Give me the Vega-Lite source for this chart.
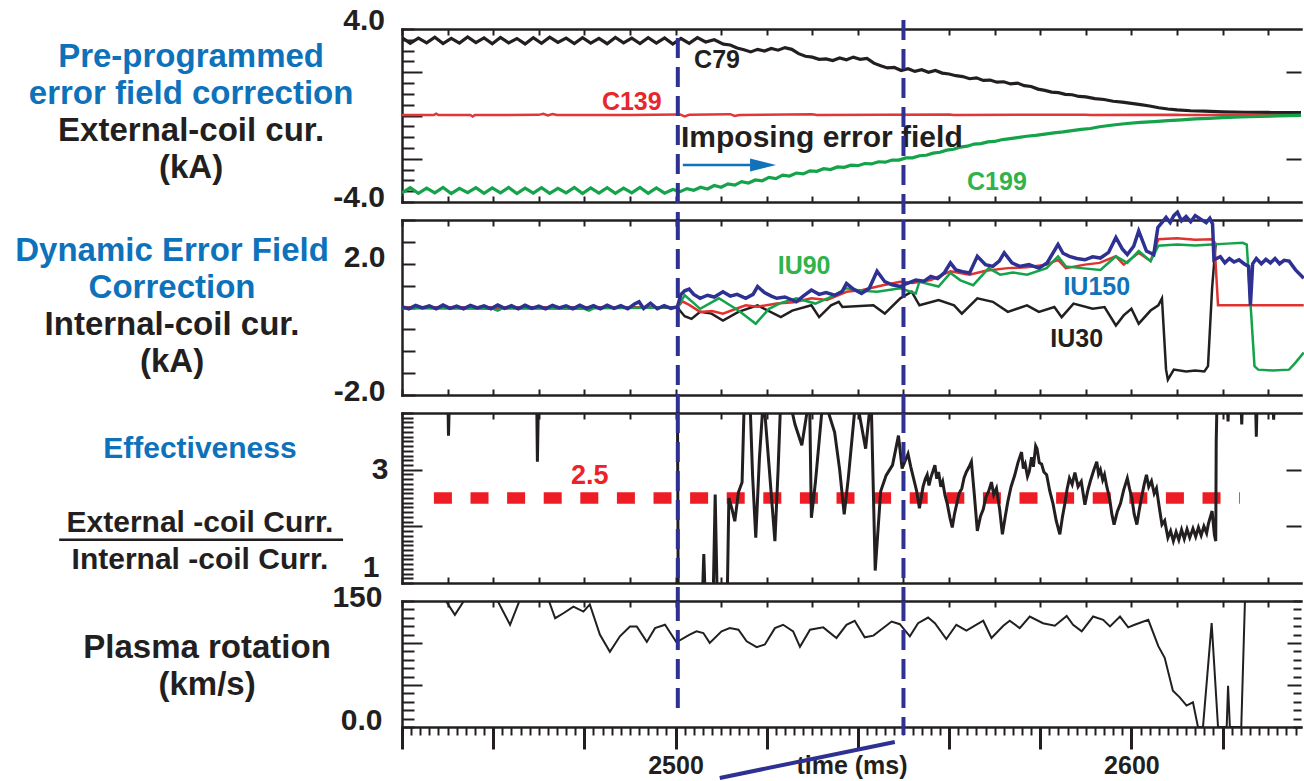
{
  "$schema": "https://vega.github.io/schema/vega-lite/v6.json",
  "background": "white",
  "padding": {"left": 0, "top": 5, "right": 0, "bottom": 0},
  "columns": 2,
  "align": "each",
  "bounds": "flush",
  "spacing": {"row": 18, "column": 62},
  "resolve": {"scale": {"color": "independent"}},
  "config": {
    "font": "Liberation Sans",
    "view": {"stroke": null},
    "text": {"font": "Liberation Sans", "fontWeight": "bold"},
    "axis": {
      "grid": false,
      "domainColor": "#231f20",
      "domainWidth": 2.5,
      "domainCap": "square",
      "tickColor": "#231f20",
      "tickWidth": 2,
      "labelFont": "Liberation Sans",
      "labelFontWeight": "bold",
      "labelColor": "#231f20",
      "labelFontSize": 30,
      "labelOverlap": false,
      "labelFlush": false,
      "titleFont": "Liberation Sans",
      "titleFontWeight": "bold",
      "titleColor": "#231f20"
    }
  },
  "datasets": {
    "ext": [
      {"coil": "C79", "t": 2440, "v": 3.60}, {"coil": "C79", "t": 2441.8, "v": 3.34}, {"coil": "C79", "t": 2443.6, "v": 3.58}, {"coil": "C79", "t": 2445.4, "v": 3.36},
      {"coil": "C79", "t": 2447.2, "v": 3.62}, {"coil": "C79", "t": 2449, "v": 3.33}, {"coil": "C79", "t": 2450.8, "v": 3.57}, {"coil": "C79", "t": 2452.6, "v": 3.35},
      {"coil": "C79", "t": 2454.4, "v": 3.63}, {"coil": "C79", "t": 2456.2, "v": 3.37}, {"coil": "C79", "t": 2458, "v": 3.59}, {"coil": "C79", "t": 2459.8, "v": 3.32},
      {"coil": "C79", "t": 2461.6, "v": 3.61}, {"coil": "C79", "t": 2463.4, "v": 3.36}, {"coil": "C79", "t": 2465.2, "v": 3.56}, {"coil": "C79", "t": 2467, "v": 3.31},
      {"coil": "C79", "t": 2468.8, "v": 3.60}, {"coil": "C79", "t": 2470.6, "v": 3.34}, {"coil": "C79", "t": 2472.4, "v": 3.62}, {"coil": "C79", "t": 2474.2, "v": 3.38},
      {"coil": "C79", "t": 2476, "v": 3.58}, {"coil": "C79", "t": 2477.8, "v": 3.33}, {"coil": "C79", "t": 2479.6, "v": 3.60}, {"coil": "C79", "t": 2481.4, "v": 3.35},
      {"coil": "C79", "t": 2483.2, "v": 3.57}, {"coil": "C79", "t": 2485, "v": 3.32}, {"coil": "C79", "t": 2486.8, "v": 3.61}, {"coil": "C79", "t": 2488.6, "v": 3.36},
      {"coil": "C79", "t": 2490.4, "v": 3.58}, {"coil": "C79", "t": 2492.2, "v": 3.33}, {"coil": "C79", "t": 2494, "v": 3.60}, {"coil": "C79", "t": 2495.8, "v": 3.35},
      {"coil": "C79", "t": 2497.6, "v": 3.59}, {"coil": "C79", "t": 2499.4, "v": 3.30}, {"coil": "C79", "t": 2501.2, "v": 3.56}, {"coil": "C79", "t": 2503, "v": 3.34},
      {"coil": "C79", "t": 2504.8, "v": 3.60}, {"coil": "C79", "t": 2506.6, "v": 3.40}, {"coil": "C79", "t": 2508.5, "v": 3.50}, {"coil": "C79", "t": 2510.5, "v": 3.30},
      {"coil": "C79", "t": 2512, "v": 3.26}, {"coil": "C79", "t": 2513.5, "v": 3.12}, {"coil": "C79", "t": 2515, "v": 3.04}, {"coil": "C79", "t": 2516.5, "v": 2.94},
      {"coil": "C79", "t": 2518, "v": 3.06}, {"coil": "C79", "t": 2519.5, "v": 2.98}, {"coil": "C79", "t": 2521, "v": 3.10}, {"coil": "C79", "t": 2522.5, "v": 3.02},
      {"coil": "C79", "t": 2524, "v": 3.14}, {"coil": "C79", "t": 2525.5, "v": 3.06}, {"coil": "C79", "t": 2527, "v": 2.86}, {"coil": "C79", "t": 2528.5, "v": 2.74},
      {"coil": "C79", "t": 2530, "v": 2.70}, {"coil": "C79", "t": 2531.5, "v": 2.60}, {"coil": "C79", "t": 2533, "v": 2.62}, {"coil": "C79", "t": 2534.5, "v": 2.54},
      {"coil": "C79", "t": 2536, "v": 2.66}, {"coil": "C79", "t": 2537.5, "v": 2.58}, {"coil": "C79", "t": 2539, "v": 2.70}, {"coil": "C79", "t": 2540.5, "v": 2.60},
      {"coil": "C79", "t": 2542, "v": 2.64}, {"coil": "C79", "t": 2543.5, "v": 2.42}, {"coil": "C79", "t": 2545, "v": 2.30}, {"coil": "C79", "t": 2546.5, "v": 2.20},
      {"coil": "C79", "t": 2548, "v": 2.22}, {"coil": "C79", "t": 2549.5, "v": 2.08}, {"coil": "C79", "t": 2551, "v": 2.16}, {"coil": "C79", "t": 2552.5, "v": 2.04},
      {"coil": "C79", "t": 2554, "v": 2.12}, {"coil": "C79", "t": 2555.5, "v": 2.00}, {"coil": "C79", "t": 2557, "v": 2.08}, {"coil": "C79", "t": 2558.5, "v": 1.96},
      {"coil": "C79", "t": 2560, "v": 1.92}, {"coil": "C79", "t": 2561.5, "v": 1.84}, {"coil": "C79", "t": 2563, "v": 1.80}, {"coil": "C79", "t": 2564.5, "v": 1.70},
      {"coil": "C79", "t": 2566, "v": 1.74}, {"coil": "C79", "t": 2567.5, "v": 1.62}, {"coil": "C79", "t": 2569, "v": 1.64}, {"coil": "C79", "t": 2570.5, "v": 1.54},
      {"coil": "C79", "t": 2572, "v": 1.56}, {"coil": "C79", "t": 2573.5, "v": 1.46}, {"coil": "C79", "t": 2575, "v": 1.50}, {"coil": "C79", "t": 2576.5, "v": 1.38},
      {"coil": "C79", "t": 2578, "v": 1.34}, {"coil": "C79", "t": 2579.5, "v": 1.22}, {"coil": "C79", "t": 2581, "v": 1.16}, {"coil": "C79", "t": 2582.5, "v": 1.08},
      {"coil": "C79", "t": 2584, "v": 1.06}, {"coil": "C79", "t": 2585.5, "v": 0.98}, {"coil": "C79", "t": 2587, "v": 0.96}, {"coil": "C79", "t": 2588.5, "v": 0.88},
      {"coil": "C79", "t": 2590, "v": 0.86}, {"coil": "C79", "t": 2592, "v": 0.78}, {"coil": "C79", "t": 2594, "v": 0.74}, {"coil": "C79", "t": 2596, "v": 0.66},
      {"coil": "C79", "t": 2598, "v": 0.62}, {"coil": "C79", "t": 2600, "v": 0.56}, {"coil": "C79", "t": 2602, "v": 0.50}, {"coil": "C79", "t": 2604, "v": 0.44},
      {"coil": "C79", "t": 2606, "v": 0.36}, {"coil": "C79", "t": 2608, "v": 0.30}, {"coil": "C79", "t": 2610, "v": 0.26}, {"coil": "C79", "t": 2613, "v": 0.22},
      {"coil": "C79", "t": 2616, "v": 0.20}, {"coil": "C79", "t": 2620, "v": 0.17}, {"coil": "C79", "t": 2625, "v": 0.15}, {"coil": "C79", "t": 2630, "v": 0.14},
      {"coil": "C79", "t": 2638, "v": 0.13},

      {"coil": "C139", "t": 2440, "v": 0.02}, {"coil": "C139", "t": 2447, "v": 0.02}, {"coil": "C139", "t": 2447.5, "v": 0.08}, {"coil": "C139", "t": 2448, "v": 0.02},
      {"coil": "C139", "t": 2455, "v": 0.02}, {"coil": "C139", "t": 2455.5, "v": -0.05}, {"coil": "C139", "t": 2456, "v": 0.02}, {"coil": "C139", "t": 2470, "v": 0.03},
      {"coil": "C139", "t": 2471, "v": 0.08}, {"coil": "C139", "t": 2472, "v": 0.0}, {"coil": "C139", "t": 2473, "v": 0.07}, {"coil": "C139", "t": 2474, "v": 0.02},
      {"coil": "C139", "t": 2490, "v": 0.02}, {"coil": "C139", "t": 2501, "v": 0.05}, {"coil": "C139", "t": 2502, "v": -0.04}, {"coil": "C139", "t": 2503, "v": 0.03},
      {"coil": "C139", "t": 2512, "v": 0.06}, {"coil": "C139", "t": 2513, "v": -0.02}, {"coil": "C139", "t": 2514, "v": 0.02}, {"coil": "C139", "t": 2530, "v": 0.06},
      {"coil": "C139", "t": 2531, "v": 0.02}, {"coil": "C139", "t": 2560, "v": 0.05}, {"coil": "C139", "t": 2561, "v": 0.02}, {"coil": "C139", "t": 2590, "v": 0.04},
      {"coil": "C139", "t": 2591, "v": 0.02}, {"coil": "C139", "t": 2610, "v": 0.04}, {"coil": "C139", "t": 2611, "v": 0.02}, {"coil": "C139", "t": 2638, "v": 0.02},

      {"coil": "C199", "t": 2440, "v": -3.58}, {"coil": "C199", "t": 2441.8, "v": -3.34}, {"coil": "C199", "t": 2443.6, "v": -3.60}, {"coil": "C199", "t": 2445.4, "v": -3.36},
      {"coil": "C199", "t": 2447.2, "v": -3.58}, {"coil": "C199", "t": 2449, "v": -3.33}, {"coil": "C199", "t": 2450.8, "v": -3.61}, {"coil": "C199", "t": 2452.6, "v": -3.37},
      {"coil": "C199", "t": 2454.4, "v": -3.57}, {"coil": "C199", "t": 2456.2, "v": -3.34}, {"coil": "C199", "t": 2458, "v": -3.60}, {"coil": "C199", "t": 2459.8, "v": -3.35},
      {"coil": "C199", "t": 2461.6, "v": -3.58}, {"coil": "C199", "t": 2463.4, "v": -3.33}, {"coil": "C199", "t": 2465.2, "v": -3.61}, {"coil": "C199", "t": 2467, "v": -3.36},
      {"coil": "C199", "t": 2468.8, "v": -3.59}, {"coil": "C199", "t": 2470.6, "v": -3.34}, {"coil": "C199", "t": 2472.4, "v": -3.60}, {"coil": "C199", "t": 2474.2, "v": -3.37},
      {"coil": "C199", "t": 2476, "v": -3.58}, {"coil": "C199", "t": 2477.8, "v": -3.33}, {"coil": "C199", "t": 2479.6, "v": -3.61}, {"coil": "C199", "t": 2481.4, "v": -3.35},
      {"coil": "C199", "t": 2483.2, "v": -3.59}, {"coil": "C199", "t": 2485, "v": -3.34}, {"coil": "C199", "t": 2486.8, "v": -3.60}, {"coil": "C199", "t": 2488.6, "v": -3.36},
      {"coil": "C199", "t": 2490.4, "v": -3.58}, {"coil": "C199", "t": 2492.2, "v": -3.33}, {"coil": "C199", "t": 2494, "v": -3.60}, {"coil": "C199", "t": 2495.8, "v": -3.35},
      {"coil": "C199", "t": 2497.6, "v": -3.59}, {"coil": "C199", "t": 2499.4, "v": -3.42}, {"coil": "C199", "t": 2501, "v": -3.52}, {"coil": "C199", "t": 2502.5, "v": -3.38},
      {"coil": "C199", "t": 2504, "v": -3.46}, {"coil": "C199", "t": 2505.5, "v": -3.32}, {"coil": "C199", "t": 2507, "v": -3.40}, {"coil": "C199", "t": 2508.5, "v": -3.24},
      {"coil": "C199", "t": 2510, "v": -3.32}, {"coil": "C199", "t": 2511.5, "v": -3.16}, {"coil": "C199", "t": 2513, "v": -3.22}, {"coil": "C199", "t": 2514.5, "v": -3.06},
      {"coil": "C199", "t": 2516, "v": -3.12}, {"coil": "C199", "t": 2517.5, "v": -2.98}, {"coil": "C199", "t": 2519, "v": -3.02}, {"coil": "C199", "t": 2520.5, "v": -2.86},
      {"coil": "C199", "t": 2522, "v": -2.92}, {"coil": "C199", "t": 2523.5, "v": -2.76}, {"coil": "C199", "t": 2525, "v": -2.80}, {"coil": "C199", "t": 2526.5, "v": -2.66},
      {"coil": "C199", "t": 2528, "v": -2.70}, {"coil": "C199", "t": 2529.5, "v": -2.56}, {"coil": "C199", "t": 2531, "v": -2.58}, {"coil": "C199", "t": 2532.5, "v": -2.46},
      {"coil": "C199", "t": 2534, "v": -2.50}, {"coil": "C199", "t": 2535.5, "v": -2.38}, {"coil": "C199", "t": 2537, "v": -2.40}, {"coil": "C199", "t": 2538.5, "v": -2.30},
      {"coil": "C199", "t": 2540, "v": -2.32}, {"coil": "C199", "t": 2541.5, "v": -2.22}, {"coil": "C199", "t": 2543, "v": -2.24}, {"coil": "C199", "t": 2544.5, "v": -2.14},
      {"coil": "C199", "t": 2546, "v": -2.16}, {"coil": "C199", "t": 2547.5, "v": -2.06}, {"coil": "C199", "t": 2549, "v": -2.06}, {"coil": "C199", "t": 2550.5, "v": -1.96},
      {"coil": "C199", "t": 2552, "v": -1.96}, {"coil": "C199", "t": 2553.5, "v": -1.86}, {"coil": "C199", "t": 2555, "v": -1.84}, {"coil": "C199", "t": 2556.5, "v": -1.74},
      {"coil": "C199", "t": 2558, "v": -1.70}, {"coil": "C199", "t": 2559.5, "v": -1.60}, {"coil": "C199", "t": 2561, "v": -1.56}, {"coil": "C199", "t": 2562.5, "v": -1.46},
      {"coil": "C199", "t": 2564, "v": -1.42}, {"coil": "C199", "t": 2565.5, "v": -1.32}, {"coil": "C199", "t": 2567, "v": -1.30}, {"coil": "C199", "t": 2568.5, "v": -1.22},
      {"coil": "C199", "t": 2570, "v": -1.20}, {"coil": "C199", "t": 2571.5, "v": -1.12}, {"coil": "C199", "t": 2573, "v": -1.08}, {"coil": "C199", "t": 2575, "v": -1.02},
      {"coil": "C199", "t": 2577, "v": -0.96}, {"coil": "C199", "t": 2579, "v": -0.92}, {"coil": "C199", "t": 2581, "v": -0.86}, {"coil": "C199", "t": 2583, "v": -0.80},
      {"coil": "C199", "t": 2585, "v": -0.76}, {"coil": "C199", "t": 2587, "v": -0.70}, {"coil": "C199", "t": 2589, "v": -0.64}, {"coil": "C199", "t": 2591, "v": -0.60},
      {"coil": "C199", "t": 2593, "v": -0.52}, {"coil": "C199", "t": 2596, "v": -0.44}, {"coil": "C199", "t": 2599, "v": -0.37}, {"coil": "C199", "t": 2602, "v": -0.32},
      {"coil": "C199", "t": 2605, "v": -0.28}, {"coil": "C199", "t": 2608, "v": -0.24}, {"coil": "C199", "t": 2611, "v": -0.20}, {"coil": "C199", "t": 2614, "v": -0.16},
      {"coil": "C199", "t": 2617, "v": -0.13}, {"coil": "C199", "t": 2620, "v": -0.10}, {"coil": "C199", "t": 2624, "v": -0.07}, {"coil": "C199", "t": 2628, "v": -0.04},
      {"coil": "C199", "t": 2632, "v": -0.02}, {"coil": "C199", "t": 2638, "v": 0.01}
    ],
    "int": [
      {"coil": "IU30", "t": 2440, "v": 0}, {"coil": "IU30", "t": 2500.4, "v": 0}, {"coil": "IU30", "t": 2502, "v": -0.20}, {"coil": "IU30", "t": 2503.5, "v": -0.26},
      {"coil": "IU30", "t": 2505.4, "v": -0.10}, {"coil": "IU30", "t": 2507.9, "v": -0.14}, {"coil": "IU30", "t": 2510.4, "v": -0.30}, {"coil": "IU30", "t": 2513.8, "v": -0.10},
      {"coil": "IU30", "t": 2518, "v": 0.05}, {"coil": "IU30", "t": 2523.1, "v": -0.22}, {"coil": "IU30", "t": 2525.6, "v": -0.07}, {"coil": "IU30", "t": 2529.8, "v": 0.05},
      {"coil": "IU30", "t": 2531.5, "v": -0.22}, {"coil": "IU30", "t": 2534.1, "v": 0.05}, {"coil": "IU30", "t": 2535.8, "v": 0.13}, {"coil": "IU30", "t": 2536.6, "v": 0.01},
      {"coil": "IU30", "t": 2543.4, "v": 0.05}, {"coil": "IU30", "t": 2545.9, "v": -0.14}, {"coil": "IU30", "t": 2549.3, "v": 0.21}, {"coil": "IU30", "t": 2551.8, "v": 0.36},
      {"coil": "IU30", "t": 2553.5, "v": 0.05}, {"coil": "IU30", "t": 2557.7, "v": 0.17}, {"coil": "IU30", "t": 2561.1, "v": 0.05}, {"coil": "IU30", "t": 2562.8, "v": -0.14},
      {"coil": "IU30", "t": 2566.2, "v": 0.21}, {"coil": "IU30", "t": 2569.6, "v": 0.13}, {"coil": "IU30", "t": 2572.9, "v": -0.10}, {"coil": "IU30", "t": 2577.1, "v": 0.05},
      {"coil": "IU30", "t": 2579.7, "v": -0.10}, {"coil": "IU30", "t": 2583.1, "v": 0.01}, {"coil": "IU30", "t": 2584.7, "v": -0.22}, {"coil": "IU30", "t": 2587.3, "v": 0.09},
      {"coil": "IU30", "t": 2591.5, "v": -0.03}, {"coil": "IU30", "t": 2594.1, "v": 0.01}, {"coil": "IU30", "t": 2596.6, "v": -0.41}, {"coil": "IU30", "t": 2598.3, "v": -0.18},
      {"coil": "IU30", "t": 2600, "v": -0.03}, {"coil": "IU30", "t": 2601.6, "v": -0.37}, {"coil": "IU30", "t": 2604.2, "v": -0.07}, {"coil": "IU30", "t": 2605.9, "v": 0.05},
      {"coil": "IU30", "t": 2606.7, "v": 0.21}, {"coil": "IU30", "t": 2607.6, "v": -1.42}, {"coil": "IU30", "t": 2608, "v": -1.65}, {"coil": "IU30", "t": 2609.3, "v": -1.42},
      {"coil": "IU30", "t": 2612, "v": -1.46}, {"coil": "IU30", "t": 2614, "v": -1.44}, {"coil": "IU30", "t": 2616, "v": -1.46}, {"coil": "IU30", "t": 2616.8, "v": -1.34},
      {"coil": "IU30", "t": 2617.7, "v": 0.44}, {"coil": "IU30", "t": 2618.5, "v": 1.48},

      {"coil": "IU210", "t": 2440, "v": 0}, {"coil": "IU210", "t": 2500.4, "v": 0}, {"coil": "IU210", "t": 2501.5, "v": 0.14}, {"coil": "IU210", "t": 2503, "v": 0.06},
      {"coil": "IU210", "t": 2505.4, "v": -0.10}, {"coil": "IU210", "t": 2508, "v": -0.08}, {"coil": "IU210", "t": 2510.4, "v": -0.14}, {"coil": "IU210", "t": 2513, "v": -0.04},
      {"coil": "IU210", "t": 2515.4, "v": 0.05}, {"coil": "IU210", "t": 2518, "v": 0.02}, {"coil": "IU210", "t": 2522.2, "v": 0.09}, {"coil": "IU210", "t": 2526, "v": 0.12},
      {"coil": "IU210", "t": 2529.8, "v": 0.21}, {"coil": "IU210", "t": 2533.2, "v": 0.17}, {"coil": "IU210", "t": 2537.5, "v": 0.36}, {"coil": "IU210", "t": 2541, "v": 0.40},
      {"coil": "IU210", "t": 2545.5, "v": 0.51}, {"coil": "IU210", "t": 2549.3, "v": 0.59}, {"coil": "IU210", "t": 2552, "v": 0.56}, {"coil": "IU210", "t": 2556, "v": 0.63},
      {"coil": "IU210", "t": 2560.3, "v": 0.83}, {"coil": "IU210", "t": 2564.5, "v": 0.75}, {"coil": "IU210", "t": 2568, "v": 0.84}, {"coil": "IU210", "t": 2572.9, "v": 0.90},
      {"coil": "IU210", "t": 2577, "v": 0.92}, {"coil": "IU210", "t": 2581.4, "v": 0.98}, {"coil": "IU210", "t": 2583.9, "v": 1.09}, {"coil": "IU210", "t": 2585.6, "v": 0.90},
      {"coil": "IU210", "t": 2589.8, "v": 0.98}, {"coil": "IU210", "t": 2593, "v": 1.02}, {"coil": "IU210", "t": 2596.6, "v": 1.17}, {"coil": "IU210", "t": 2598.3, "v": 0.98},
      {"coil": "IU210", "t": 2601.6, "v": 1.25}, {"coil": "IU210", "t": 2604.2, "v": 1.06}, {"coil": "IU210", "t": 2605.9, "v": 1.56}, {"coil": "IU210", "t": 2610, "v": 1.58},
      {"coil": "IU210", "t": 2614, "v": 1.55}, {"coil": "IU210", "t": 2617.7, "v": 1.56}, {"coil": "IU210", "t": 2618.2, "v": 1.50}, {"coil": "IU210", "t": 2619, "v": 0.05},
      {"coil": "IU210", "t": 2637.8, "v": 0.05},

      {"coil": "IU90", "t": 2440, "v": -0.02}, {"coil": "IU90", "t": 2460, "v": -0.03}, {"coil": "IU90", "t": 2461, "v": -0.07}, {"coil": "IU90", "t": 2462, "v": -0.02},
      {"coil": "IU90", "t": 2480, "v": -0.03}, {"coil": "IU90", "t": 2481, "v": -0.07}, {"coil": "IU90", "t": 2482, "v": -0.02}, {"coil": "IU90", "t": 2500.4, "v": 0},
      {"coil": "IU90", "t": 2502, "v": 0.28}, {"coil": "IU90", "t": 2504, "v": 0.10}, {"coil": "IU90", "t": 2505.4, "v": -0.03}, {"coil": "IU90", "t": 2509.5, "v": 0.21},
      {"coil": "IU90", "t": 2513.8, "v": -0.07}, {"coil": "IU90", "t": 2517.6, "v": -0.37}, {"coil": "IU90", "t": 2520.5, "v": -0.03}, {"coil": "IU90", "t": 2523, "v": 0.10},
      {"coil": "IU90", "t": 2526.5, "v": 0.21}, {"coil": "IU90", "t": 2530.7, "v": 0.09}, {"coil": "IU90", "t": 2534.1, "v": 0.24}, {"coil": "IU90", "t": 2537.5, "v": 0.44},
      {"coil": "IU90", "t": 2541, "v": 0.38}, {"coil": "IU90", "t": 2544.2, "v": 0.36}, {"coil": "IU90", "t": 2549.3, "v": 0.44}, {"coil": "IU90", "t": 2552.7, "v": 0.32},
      {"coil": "IU90", "t": 2553.5, "v": 0.59}, {"coil": "IU90", "t": 2557.7, "v": 0.48}, {"coil": "IU90", "t": 2560.3, "v": 0.79}, {"coil": "IU90", "t": 2562.5, "v": 0.62},
      {"coil": "IU90", "t": 2565.3, "v": 0.51}, {"coil": "IU90", "t": 2568.7, "v": 0.90}, {"coil": "IU90", "t": 2571.2, "v": 0.75}, {"coil": "IU90", "t": 2574, "v": 0.80},
      {"coil": "IU90", "t": 2577.1, "v": 0.75}, {"coil": "IU90", "t": 2581.4, "v": 0.90}, {"coil": "IU90", "t": 2583.9, "v": 1.17}, {"coil": "IU90", "t": 2585.6, "v": 0.94},
      {"coil": "IU90", "t": 2589, "v": 0.90}, {"coil": "IU90", "t": 2593.2, "v": 0.86}, {"coil": "IU90", "t": 2596.6, "v": 1.17}, {"coil": "IU90", "t": 2599.1, "v": 1.02},
      {"coil": "IU90", "t": 2601.6, "v": 1.29}, {"coil": "IU90", "t": 2604.2, "v": 1.06}, {"coil": "IU90", "t": 2605.9, "v": 1.41}, {"coil": "IU90", "t": 2610, "v": 1.44},
      {"coil": "IU90", "t": 2614, "v": 1.42}, {"coil": "IU90", "t": 2617.7, "v": 1.44}, {"coil": "IU90", "t": 2621, "v": 1.46}, {"coil": "IU90", "t": 2624.4, "v": 1.48},
      {"coil": "IU90", "t": 2625.3, "v": 1.44}, {"coil": "IU90", "t": 2627, "v": -1.34}, {"coil": "IU90", "t": 2627.8, "v": -1.42}, {"coil": "IU90", "t": 2631, "v": -1.44},
      {"coil": "IU90", "t": 2634.6, "v": -1.42}, {"coil": "IU90", "t": 2636, "v": -1.26}, {"coil": "IU90", "t": 2637.8, "v": -1.03},

      {"coil": "IU150", "t": 2440, "v": 0.02}, {"coil": "IU150", "t": 2441.5, "v": -0.03}, {"coil": "IU150", "t": 2443, "v": 0.05}, {"coil": "IU150", "t": 2444.5, "v": -0.01},
      {"coil": "IU150", "t": 2446, "v": 0.04}, {"coil": "IU150", "t": 2447.5, "v": -0.03}, {"coil": "IU150", "t": 2449, "v": 0.06}, {"coil": "IU150", "t": 2450.5, "v": -0.02},
      {"coil": "IU150", "t": 2452, "v": 0.03}, {"coil": "IU150", "t": 2453.5, "v": -0.03}, {"coil": "IU150", "t": 2455, "v": 0.05}, {"coil": "IU150", "t": 2456.5, "v": -0.01},
      {"coil": "IU150", "t": 2458, "v": 0.04}, {"coil": "IU150", "t": 2459.5, "v": -0.03}, {"coil": "IU150", "t": 2461, "v": 0.06}, {"coil": "IU150", "t": 2462.5, "v": -0.02},
      {"coil": "IU150", "t": 2464, "v": 0.04}, {"coil": "IU150", "t": 2465.5, "v": -0.03}, {"coil": "IU150", "t": 2467, "v": 0.05}, {"coil": "IU150", "t": 2468.5, "v": -0.02},
      {"coil": "IU150", "t": 2470, "v": 0.03}, {"coil": "IU150", "t": 2471.5, "v": -0.03}, {"coil": "IU150", "t": 2473, "v": 0.05}, {"coil": "IU150", "t": 2474.5, "v": -0.01},
      {"coil": "IU150", "t": 2476, "v": 0.04}, {"coil": "IU150", "t": 2477.5, "v": -0.03}, {"coil": "IU150", "t": 2479, "v": 0.05}, {"coil": "IU150", "t": 2480.5, "v": -0.02},
      {"coil": "IU150", "t": 2482, "v": 0.04}, {"coil": "IU150", "t": 2483.5, "v": -0.03}, {"coil": "IU150", "t": 2485, "v": 0.05}, {"coil": "IU150", "t": 2486.5, "v": -0.02},
      {"coil": "IU150", "t": 2488, "v": 0.04}, {"coil": "IU150", "t": 2489.5, "v": -0.03}, {"coil": "IU150", "t": 2491, "v": 0.08}, {"coil": "IU150", "t": 2492, "v": 0.13},
      {"coil": "IU150", "t": 2493, "v": -0.02}, {"coil": "IU150", "t": 2494.5, "v": 0.10}, {"coil": "IU150", "t": 2496, "v": -0.03}, {"coil": "IU150", "t": 2497.5, "v": 0.04},
      {"coil": "IU150", "t": 2499, "v": -0.02}, {"coil": "IU150", "t": 2500.4, "v": 0.02}, {"coil": "IU150", "t": 2501.2, "v": 0.30}, {"coil": "IU150", "t": 2502, "v": 0.38},
      {"coil": "IU150", "t": 2503, "v": 0.42}, {"coil": "IU150", "t": 2504, "v": 0.30}, {"coil": "IU150", "t": 2505.4, "v": 0.21}, {"coil": "IU150", "t": 2507, "v": 0.28},
      {"coil": "IU150", "t": 2508.5, "v": 0.24}, {"coil": "IU150", "t": 2510.4, "v": 0.36}, {"coil": "IU150", "t": 2512, "v": 0.26}, {"coil": "IU150", "t": 2513.5, "v": 0.30},
      {"coil": "IU150", "t": 2515.4, "v": 0.21}, {"coil": "IU150", "t": 2517, "v": 0.30}, {"coil": "IU150", "t": 2518, "v": 0.48}, {"coil": "IU150", "t": 2519.5, "v": 0.34},
      {"coil": "IU150", "t": 2521, "v": 0.26}, {"coil": "IU150", "t": 2522.2, "v": 0.21}, {"coil": "IU150", "t": 2524, "v": 0.24}, {"coil": "IU150", "t": 2526.5, "v": 0.13},
      {"coil": "IU150", "t": 2528, "v": 0.26}, {"coil": "IU150", "t": 2529.8, "v": 0.40}, {"coil": "IU150", "t": 2531.5, "v": 0.30}, {"coil": "IU150", "t": 2533, "v": 0.34},
      {"coil": "IU150", "t": 2534.9, "v": 0.28}, {"coil": "IU150", "t": 2536.5, "v": 0.36}, {"coil": "IU150", "t": 2537.5, "v": 0.55}, {"coil": "IU150", "t": 2539, "v": 0.42},
      {"coil": "IU150", "t": 2540.8, "v": 0.32}, {"coil": "IU150", "t": 2542.5, "v": 0.44}, {"coil": "IU150", "t": 2544.2, "v": 0.83}, {"coil": "IU150", "t": 2545.9, "v": 0.59},
      {"coil": "IU150", "t": 2547.5, "v": 0.52}, {"coil": "IU150", "t": 2549.3, "v": 0.48}, {"coil": "IU150", "t": 2551, "v": 0.56}, {"coil": "IU150", "t": 2552.7, "v": 0.63},
      {"coil": "IU150", "t": 2554.5, "v": 0.60}, {"coil": "IU150", "t": 2556, "v": 0.71}, {"coil": "IU150", "t": 2557.5, "v": 0.66}, {"coil": "IU150", "t": 2559, "v": 0.80},
      {"coil": "IU150", "t": 2560.3, "v": 1.02}, {"coil": "IU150", "t": 2561.5, "v": 0.86}, {"coil": "IU150", "t": 2563, "v": 0.82}, {"coil": "IU150", "t": 2564.5, "v": 0.79},
      {"coil": "IU150", "t": 2566.2, "v": 1.17}, {"coil": "IU150", "t": 2568, "v": 0.98}, {"coil": "IU150", "t": 2569.6, "v": 0.94}, {"coil": "IU150", "t": 2571, "v": 1.06},
      {"coil": "IU150", "t": 2572.1, "v": 1.25}, {"coil": "IU150", "t": 2573.8, "v": 1.02}, {"coil": "IU150", "t": 2575.5, "v": 0.94}, {"coil": "IU150", "t": 2577.5, "v": 0.98},
      {"coil": "IU150", "t": 2579.7, "v": 0.90}, {"coil": "IU150", "t": 2581.5, "v": 1.02}, {"coil": "IU150", "t": 2583.9, "v": 1.44}, {"coil": "IU150", "t": 2585, "v": 1.24},
      {"coil": "IU150", "t": 2586.4, "v": 1.17}, {"coil": "IU150", "t": 2588, "v": 1.12}, {"coil": "IU150", "t": 2589.8, "v": 1.09}, {"coil": "IU150", "t": 2591.5, "v": 1.16},
      {"coil": "IU150", "t": 2593.2, "v": 1.13}, {"coil": "IU150", "t": 2595, "v": 1.26}, {"coil": "IU150", "t": 2596.6, "v": 1.60}, {"coil": "IU150", "t": 2598, "v": 1.34},
      {"coil": "IU150", "t": 2599.1, "v": 1.21}, {"coil": "IU150", "t": 2600.5, "v": 1.40}, {"coil": "IU150", "t": 2601.6, "v": 1.75}, {"coil": "IU150", "t": 2603.3, "v": 1.29},
      {"coil": "IU150", "t": 2604.9, "v": 1.21}, {"coil": "IU150", "t": 2605.8, "v": 1.83}, {"coil": "IU150", "t": 2607, "v": 1.98}, {"coil": "IU150", "t": 2607.6, "v": 2.06},
      {"coil": "IU150", "t": 2608.5, "v": 1.94}, {"coil": "IU150", "t": 2609.3, "v": 2.10}, {"coil": "IU150", "t": 2610.1, "v": 2.18}, {"coil": "IU150", "t": 2611, "v": 1.98},
      {"coil": "IU150", "t": 2612, "v": 2.08}, {"coil": "IU150", "t": 2613, "v": 1.96}, {"coil": "IU150", "t": 2614, "v": 2.10}, {"coil": "IU150", "t": 2615.2, "v": 2.02},
      {"coil": "IU150", "t": 2616.4, "v": 1.94}, {"coil": "IU150", "t": 2617.2, "v": 2.04}, {"coil": "IU150", "t": 2617.8, "v": 1.91}, {"coil": "IU150", "t": 2618.1, "v": 1.09},
      {"coil": "IU150", "t": 2619.5, "v": 1.16}, {"coil": "IU150", "t": 2620.5, "v": 1.02}, {"coil": "IU150", "t": 2621.5, "v": 1.12}, {"coil": "IU150", "t": 2622.5, "v": 1.04},
      {"coil": "IU150", "t": 2623.6, "v": 1.09}, {"coil": "IU150", "t": 2624.7, "v": 1.00}, {"coil": "IU150", "t": 2625.7, "v": 0.94}, {"coil": "IU150", "t": 2626.1, "v": 0.05},
      {"coil": "IU150", "t": 2626.6, "v": 1.00}, {"coil": "IU150", "t": 2627.4, "v": 1.12}, {"coil": "IU150", "t": 2628.5, "v": 1.00}, {"coil": "IU150", "t": 2629.5, "v": 1.10},
      {"coil": "IU150", "t": 2630.5, "v": 1.02}, {"coil": "IU150", "t": 2631.5, "v": 1.12}, {"coil": "IU150", "t": 2632.5, "v": 1.00}, {"coil": "IU150", "t": 2633.5, "v": 1.08},
      {"coil": "IU150", "t": 2634.6, "v": 1.06}, {"coil": "IU150", "t": 2636, "v": 0.86}, {"coil": "IU150", "t": 2637.8, "v": 0.67}
    ],
    "eff": [
      {"t": 2440, "v": 4.6}, {"t": 2450.0, "v": 4.6}, {"t": 2450.2, "v": 3.60}, {"t": 2450.5, "v": 4.6}, {"t": 2469.5, "v": 4.6}, {"t": 2469.7, "v": 3.14},
      {"t": 2470.0, "v": 4.6}, {"t": 2500.4, "v": 4.6}, {"t": 2500.6, "v": 0.5}, {"t": 2505.8, "v": 0.5}, {"t": 2506.2, "v": 1.51}, {"t": 2506.6, "v": 0.5},
      {"t": 2508.2, "v": 0.5}, {"t": 2508.7, "v": 2.56}, {"t": 2509.2, "v": 0.5}, {"t": 2511.3, "v": 0.5}, {"t": 2511.7, "v": 2.50}, {"t": 2512.4, "v": 2.30},
      {"t": 2513.0, "v": 2.09}, {"t": 2513.8, "v": 2.60}, {"t": 2514.6, "v": 2.78}, {"t": 2515.1, "v": 4.3}, {"t": 2516.3, "v": 4.3}, {"t": 2516.9, "v": 2.90},
      {"t": 2517.6, "v": 1.80}, {"t": 2518.4, "v": 3.20}, {"t": 2519.3, "v": 4.3}, {"t": 2520.5, "v": 3.08}, {"t": 2521.8, "v": 1.74}, {"t": 2522.5, "v": 3.00},
      {"t": 2523.1, "v": 4.3}, {"t": 2524.8, "v": 4.3}, {"t": 2526.2, "v": 3.80}, {"t": 2527.7, "v": 3.43}, {"t": 2529.4, "v": 4.3}, {"t": 2529.8, "v": 2.15},
      {"t": 2530.7, "v": 2.79}, {"t": 2532.4, "v": 4.3}, {"t": 2534.9, "v": 3.66}, {"t": 2536.0, "v": 3.00}, {"t": 2537.0, "v": 2.21}, {"t": 2537.9, "v": 2.85},
      {"t": 2539.6, "v": 4.3}, {"t": 2541.7, "v": 3.37}, {"t": 2542.9, "v": 4.3}, {"t": 2543.8, "v": 1.22}, {"t": 2545.0, "v": 2.62}, {"t": 2546.2, "v": 2.90},
      {"t": 2547.6, "v": 3.08}, {"t": 2548.9, "v": 3.60}, {"t": 2549.7, "v": 3.02}, {"t": 2551.0, "v": 3.28}, {"t": 2551.6, "v": 3.05}, {"t": 2552.2, "v": 2.85},
      {"t": 2552.9, "v": 2.62}, {"t": 2553.5, "v": 2.32}, {"t": 2554.3, "v": 2.70}, {"t": 2554.8, "v": 2.84}, {"t": 2555.2, "v": 2.91}, {"t": 2555.6, "v": 2.72},
      {"t": 2556.0, "v": 2.86}, {"t": 2556.5, "v": 2.98}, {"t": 2556.9, "v": 3.08}, {"t": 2557.3, "v": 2.84}, {"t": 2557.7, "v": 2.96}, {"t": 2558.2, "v": 2.70},
      {"t": 2558.6, "v": 2.79}, {"t": 2559.1, "v": 2.55}, {"t": 2559.6, "v": 2.40}, {"t": 2560.2, "v": 2.15}, {"t": 2560.7, "v": 1.98}, {"t": 2561.2, "v": 2.22},
      {"t": 2561.7, "v": 2.40}, {"t": 2562.2, "v": 2.58}, {"t": 2562.8, "v": 2.67}, {"t": 2563.3, "v": 2.86}, {"t": 2563.8, "v": 2.96}, {"t": 2564.4, "v": 3.05},
      {"t": 2564.9, "v": 3.14}, {"t": 2565.5, "v": 2.60}, {"t": 2566.2, "v": 1.92}, {"t": 2566.9, "v": 2.18}, {"t": 2567.5, "v": 2.30}, {"t": 2568.1, "v": 2.52},
      {"t": 2568.7, "v": 2.62}, {"t": 2569.3, "v": 2.78}, {"t": 2569.8, "v": 2.56}, {"t": 2570.4, "v": 2.67}, {"t": 2571.1, "v": 2.30}, {"t": 2571.7, "v": 1.86},
      {"t": 2572.3, "v": 2.16}, {"t": 2572.9, "v": 2.44}, {"t": 2573.6, "v": 2.70}, {"t": 2574.4, "v": 2.90}, {"t": 2575.1, "v": 3.12}, {"t": 2575.9, "v": 3.31},
      {"t": 2576.3, "v": 3.02}, {"t": 2576.7, "v": 3.10}, {"t": 2577.2, "v": 2.88}, {"t": 2577.6, "v": 2.97}, {"t": 2578.1, "v": 3.22}, {"t": 2578.5, "v": 3.05},
      {"t": 2579.0, "v": 3.42}, {"t": 2579.3, "v": 3.37}, {"t": 2579.8, "v": 3.12}, {"t": 2580.3, "v": 3.10}, {"t": 2580.8, "v": 2.96}, {"t": 2581.4, "v": 2.91},
      {"t": 2582.1, "v": 2.62}, {"t": 2582.8, "v": 2.40}, {"t": 2583.5, "v": 2.10}, {"t": 2584.3, "v": 1.86}, {"t": 2584.9, "v": 2.18}, {"t": 2585.4, "v": 2.40},
      {"t": 2585.9, "v": 2.66}, {"t": 2586.4, "v": 2.85}, {"t": 2587.0, "v": 2.74}, {"t": 2587.6, "v": 2.95}, {"t": 2588.3, "v": 2.70}, {"t": 2589.0, "v": 2.79},
      {"t": 2589.8, "v": 2.38}, {"t": 2590.4, "v": 2.62}, {"t": 2591.0, "v": 2.80}, {"t": 2591.7, "v": 2.98}, {"t": 2592.4, "v": 3.14}, {"t": 2592.8, "v": 2.92},
      {"t": 2593.2, "v": 3.00}, {"t": 2593.7, "v": 2.82}, {"t": 2594.1, "v": 2.91}, {"t": 2594.6, "v": 2.70}, {"t": 2595.2, "v": 2.50}, {"t": 2595.7, "v": 2.22},
      {"t": 2596.2, "v": 2.03}, {"t": 2596.9, "v": 2.26}, {"t": 2597.6, "v": 2.40}, {"t": 2598.3, "v": 2.64}, {"t": 2599.1, "v": 2.85}, {"t": 2599.6, "v": 2.66},
      {"t": 2600.1, "v": 2.50}, {"t": 2600.6, "v": 2.22}, {"t": 2601.2, "v": 2.03}, {"t": 2601.7, "v": 2.28}, {"t": 2602.2, "v": 2.50}, {"t": 2602.8, "v": 2.74},
      {"t": 2603.3, "v": 2.91}, {"t": 2603.8, "v": 2.70}, {"t": 2604.4, "v": 2.80}, {"t": 2605.0, "v": 2.58}, {"t": 2605.5, "v": 2.67}, {"t": 2606.1, "v": 2.34},
      {"t": 2606.7, "v": 2.03}, {"t": 2607.3, "v": 2.10}, {"t": 2608.0, "v": 1.80}, {"t": 2608.6, "v": 1.92}, {"t": 2609.2, "v": 1.74}, {"t": 2609.8, "v": 1.90},
      {"t": 2610.4, "v": 1.76}, {"t": 2611.0, "v": 1.94}, {"t": 2611.6, "v": 1.78}, {"t": 2612.2, "v": 1.95}, {"t": 2612.8, "v": 1.80}, {"t": 2613.5, "v": 1.96},
      {"t": 2614.1, "v": 1.82}, {"t": 2614.7, "v": 1.98}, {"t": 2615.3, "v": 1.84}, {"t": 2615.9, "v": 2.00}, {"t": 2616.5, "v": 1.88}, {"t": 2616.9, "v": 2.05},
      {"t": 2617.7, "v": 2.27}, {"t": 2618.2, "v": 1.85}, {"t": 2618.5, "v": 1.74}, {"t": 2618.6, "v": 3.49}, {"t": 2618.8, "v": 4.3}, {"t": 2621.0, "v": 4.3},
      {"t": 2621.2, "v": 3.85}, {"t": 2621.4, "v": 4.3}, {"t": 2624.0, "v": 4.3}, {"t": 2624.2, "v": 3.80}, {"t": 2624.4, "v": 4.3}, {"t": 2627.2, "v": 4.3},
      {"t": 2627.4, "v": 3.58}, {"t": 2627.6, "v": 4.3}, {"t": 2631.0, "v": 4.3}, {"t": 2631.2, "v": 3.88}, {"t": 2631.4, "v": 4.3}, {"t": 2638, "v": 4.3}
    ],
    "rot": [
      {"t": 2440, "v": 152}, {"t": 2449.4, "v": 152}, {"t": 2451.6, "v": 133.5}, {"t": 2453.8, "v": 152}, {"t": 2460.8, "v": 152}, {"t": 2463.7, "v": 121.7},
      {"t": 2465.9, "v": 152}, {"t": 2472.1, "v": 152}, {"t": 2473.6, "v": 129.5}, {"t": 2475.4, "v": 135.4}, {"t": 2477.6, "v": 143.3}, {"t": 2479.8, "v": 137.4},
      {"t": 2481.2, "v": 146.0}, {"t": 2483.4, "v": 110.0}, {"t": 2485.6, "v": 89.5}, {"t": 2487.8, "v": 108.0}, {"t": 2490.0, "v": 119.7}, {"t": 2491.5, "v": 119.7},
      {"t": 2493.7, "v": 101.3}, {"t": 2495.5, "v": 117.7}, {"t": 2497.7, "v": 121.7}, {"t": 2500.2, "v": 100.9}, {"t": 2503.1, "v": 110.0}, {"t": 2504.6, "v": 113.9},
      {"t": 2506.1, "v": 111.9}, {"t": 2507.5, "v": 100.1}, {"t": 2510.1, "v": 113.9}, {"t": 2511.9, "v": 117.7}, {"t": 2513.8, "v": 115.9}, {"t": 2515.6, "v": 102.1},
      {"t": 2517.8, "v": 95.0}, {"t": 2519.6, "v": 98.2}, {"t": 2521.8, "v": 117.7}, {"t": 2523.6, "v": 121.7}, {"t": 2525.8, "v": 113.9}, {"t": 2527.3, "v": 95.4},
      {"t": 2529.5, "v": 115.9}, {"t": 2532.4, "v": 118.6}, {"t": 2535.3, "v": 106.0}, {"t": 2537.5, "v": 121.7}, {"t": 2539.3, "v": 126.5}, {"t": 2541.5, "v": 106.8},
      {"t": 2543.4, "v": 108.8}, {"t": 2547.4, "v": 125.6}, {"t": 2549.2, "v": 122.4}, {"t": 2551.4, "v": 108.0}, {"t": 2553.2, "v": 123.6}, {"t": 2555.4, "v": 130.3},
      {"t": 2556.9, "v": 123.6}, {"t": 2559.4, "v": 104.8}, {"t": 2561.6, "v": 121.7}, {"t": 2563.8, "v": 114.7}, {"t": 2567.5, "v": 126.5}, {"t": 2569.3, "v": 106.0},
      {"t": 2571.9, "v": 120.6}, {"t": 2573.3, "v": 126.5}, {"t": 2575.5, "v": 117.7}, {"t": 2577.7, "v": 131.5}, {"t": 2580.6, "v": 123.6}, {"t": 2583.2, "v": 120.6},
      {"t": 2585.8, "v": 132.3}, {"t": 2587.2, "v": 121.7}, {"t": 2589.1, "v": 113.9}, {"t": 2591.6, "v": 131.5}, {"t": 2593.8, "v": 127.6}, {"t": 2595.3, "v": 119.7},
      {"t": 2597.5, "v": 131.5}, {"t": 2599.3, "v": 118.6}, {"t": 2600.7, "v": 121.7}, {"t": 2603.7, "v": 127.6}, {"t": 2605.9, "v": 96.2}, {"t": 2607.3, "v": 82.4},
      {"t": 2609.1, "v": 43.2}, {"t": 2610.6, "v": 35.3}, {"t": 2612.1, "v": 25.5}, {"t": 2613.5, "v": 29.4}, {"t": 2614.6, "v": 0}, {"t": 2615.7, "v": 0},
      {"t": 2617.6, "v": 123.6}, {"t": 2619.0, "v": 0}, {"t": 2620.9, "v": 0}, {"t": 2621.2, "v": 49.1}, {"t": 2621.6, "v": 0}, {"t": 2624.1, "v": 0},
      {"t": 2624.9, "v": 149.2}, {"t": 2625.3, "v": 175}
    ]
  },
  "concat": [
    {
      "width": 340, "height": 173,
      "data": {"values": [
        {"line": 1, "text": "Pre-programmed", "role": "heading"},
        {"line": 2, "text": "error field correction", "role": "heading"},
        {"line": 3, "text": "External-coil cur.", "role": "quantity"},
        {"line": 4, "text": "(kA)", "role": "quantity"}
      ]},
      "mark": {"type": "text", "fontSize": 33, "fontWeight": "bold", "baseline": "middle", "align": "center"},
      "encoding": {
        "x": {"datum": 0.562, "type": "quantitative", "scale": {"domain": [0, 1]}, "axis": null},
        "y": {"field": "line", "type": "quantitative", "scale": {"domain": [0.243, 4.919], "reverse": true, "nice": false, "zero": false}, "axis": null},
        "text": {"field": "text"},
        "color": {"field": "role", "type": "nominal", "scale": {"domain": ["heading", "quantity"], "range": ["#0e72bb", "#231f20"]}, "legend": null}
      }
    },
    {
      "width": 899, "height": 173,
      "layer": [
        {
          "data": {"name": "ext"},
          "transform": [{"filter": "datum.coil == 'C79'"}],
          "mark": {"type": "line", "color": "#231f20", "strokeWidth": 3.2, "clip": true},
          "encoding": {
            "x": {"field": "t", "type": "quantitative", "scale": {"domain": [2440, 2637.2], "nice": false, "zero": false},
                  "axis": {"orient": "bottom", "values": [2440,2450,2460,2470,2480,2490,2500,2510,2520,2530,2540,2550,2560,2570,2580,2590,2600,2610,2620,2630], "tickSize": -6, "labels": false, "title": null}},
            "y": {"field": "v", "type": "quantitative", "scale": {"domain": [-4, 4], "nice": false, "zero": false},
                  "axis": {"orient": "left", "values": [-4,-3.5,-3,-2.5,-2,-1.5,-1,-0.5,0,0.5,1,1.5,2,2.5,3,3.5,4],
                           "tickSize": {"condition": {"test": "datum.value == 2 || datum.value == -2 || datum.value == 0", "value": -20}, "value": -12},
                           "labelExpr": "datum.value == 4 ? '4.0' : datum.value == -4 ? '-4.0' : ''",
                           "labelPadding": 29.5,
                           "labelOffset": {"condition": {"test": "datum.value == 4", "value": -9}, "value": -5},
                           "title": null}}
          }
        },
        {
          "data": {"name": "ext"},
          "transform": [{"filter": "datum.coil == 'C139'"}],
          "mark": {"type": "line", "color": "#e1373a", "strokeWidth": 2.5, "clip": true},
          "encoding": {
            "x": {"field": "t", "type": "quantitative", "axis": {"orient": "top", "values": [2440,2450,2460,2470,2480,2490,2500,2510,2520,2530,2540,2550,2560,2570,2580,2590,2600,2610,2620,2630], "tickSize": -6, "labels": false, "title": null}},
            "y": {"field": "v", "type": "quantitative", "axis": {"orient": "right", "values": [-2, 2], "tickSize": -15, "labels": false, "domain": false, "title": null}}
          }
        },
        {
          "data": {"name": "ext"},
          "transform": [{"filter": "datum.coil == 'C199'"}],
          "mark": {"type": "line", "color": "#14a24a", "strokeWidth": 3.2, "clip": true},
          "encoding": {
            "x": {"field": "t", "type": "quantitative", "axis": null},
            "y": {"field": "v", "type": "quantitative", "axis": null}
          }
        },
        {
          "data": {"values": [
            {"label": "C79", "t": 2509.1, "v": 2.57},
            {"label": "C139", "t": 2490.4, "v": 0.62},
            {"label": "C199", "t": 2570.5, "v": -3.08}
          ]},
          "mark": {"type": "text", "fontSize": 25, "fontWeight": "bold", "baseline": "middle", "align": "center"},
          "encoding": {
            "x": {"field": "t", "type": "quantitative", "axis": null},
            "y": {"field": "v", "type": "quantitative", "axis": null},
            "text": {"field": "label"},
            "color": {"field": "label", "type": "nominal", "scale": {"domain": ["C79", "C139", "C199"], "range": ["#231f20", "#e8262c", "#2fb34a"]}, "legend": null}
          }
        },
        {
          "data": {"values": [{"label": "Imposing error field", "t": 2501.2, "v": -1.04}]},
          "mark": {"type": "text", "fontSize": 30, "fontWeight": "bold", "baseline": "middle", "align": "left", "color": "#231f20"},
          "encoding": {
            "x": {"field": "t", "type": "quantitative", "axis": null},
            "y": {"field": "v", "type": "quantitative", "axis": null},
            "text": {"field": "label"}
          }
        },
        {
          "data": {"values": [{"from": 2501.6, "to": 2516.5, "level": -2.29}]},
          "mark": {"type": "rule", "color": "#1172bb", "strokeWidth": 2.5},
          "encoding": {
            "x": {"field": "from", "type": "quantitative", "axis": null},
            "x2": {"field": "to"},
            "y": {"field": "level", "type": "quantitative", "axis": null}
          }
        },
        {
          "data": {"values": [{"tip": 2519.2, "level": -2.29}]},
          "mark": {"type": "point", "shape": "M-1,-0.5L1,0L-1,0.5Z", "size": 676, "filled": true, "opacity": 1, "color": "#1172bb"},
          "encoding": {
            "x": {"field": "tip", "type": "quantitative", "axis": null},
            "y": {"field": "level", "type": "quantitative", "axis": null}
          }
        },
        {
          "data": {"values": [{"t": 2500.5}]},
          "mark": {"type": "rule", "color": "#2e3192", "strokeWidth": 4, "strokeDash": [20, 9]},
          "encoding": {
            "x": {"field": "t", "type": "quantitative", "axis": null},
            "y": {"datum": 3.58, "type": "quantitative", "axis": null},
            "y2": {"datum": -4.83}
          }
        },
        {
          "data": {"values": [{"t": 2550}]},
          "mark": {"type": "rule", "color": "#2e3192", "strokeWidth": 4, "strokeDash": [20, 9]},
          "encoding": {
            "x": {"field": "t", "type": "quantitative", "axis": null},
            "y": {"datum": 4.42, "type": "quantitative", "axis": null},
            "y2": {"datum": -4.83}
          }
        }
      ],
      "resolve": {"axis": {"x": "independent", "y": "independent"}}
    },
    {
      "width": 340, "height": 175,
      "data": {"values": [
        {"line": 1, "text": "Dynamic Error Field", "role": "heading"},
        {"line": 2, "text": "Correction", "role": "heading"},
        {"line": 3, "text": "Internal-coil cur.", "role": "quantity"},
        {"line": 4, "text": "(kA)", "role": "quantity"}
      ]},
      "mark": {"type": "text", "fontSize": 33, "fontWeight": "bold", "baseline": "middle", "align": "center"},
      "encoding": {
        "x": {"datum": 0.506, "type": "quantitative", "scale": {"domain": [0, 1]}, "axis": null},
        "y": {"field": "line", "type": "quantitative", "scale": {"domain": [0.162, 4.892], "reverse": true, "nice": false, "zero": false}, "axis": null},
        "text": {"field": "text"},
        "color": {"field": "role", "type": "nominal", "scale": {"domain": ["heading", "quantity"], "range": ["#0e72bb", "#231f20"]}, "legend": null}
      }
    },
    {
      "width": 899, "height": 175,
      "layer": [
        {
          "data": {"name": "int"},
          "transform": [{"filter": "datum.coil == 'IU30'"}],
          "mark": {"type": "line", "color": "#231f20", "strokeWidth": 2.5},
          "encoding": {
            "x": {"field": "t", "type": "quantitative", "scale": {"domain": [2440, 2637.2], "nice": false, "zero": false},
                  "axis": {"orient": "bottom", "values": [2440,2450,2460,2470,2480,2490,2500,2510,2520,2530,2540,2550,2560,2570,2580,2590,2600,2610,2620,2630], "tickSize": -6, "labels": false, "title": null}},
            "y": {"field": "v", "type": "quantitative", "scale": {"domain": [-2, 2], "nice": false, "zero": false},
                  "axis": {"orient": "left", "values": [-2,-1.5,-1,-0.5,0,0.5,1,1.5,2], "tickSize": -13,
                           "labelExpr": "datum.value == 2 ? '2.0' : datum.value == -2 ? '-2.0' : ''",
                           "labelPadding": 30,
                           "labelOffset": {"condition": {"test": "datum.value == 2", "value": 37}, "value": -4},
                           "title": null}}
          }
        },
        {
          "data": {"name": "int"},
          "transform": [{"filter": "datum.coil == 'IU210'"}],
          "mark": {"type": "line", "color": "#e0332f", "strokeWidth": 2.5},
          "encoding": {
            "x": {"field": "t", "type": "quantitative", "axis": {"orient": "top", "values": [2440,2450,2460,2470,2480,2490,2500,2510,2520,2530,2540,2550,2560,2570,2580,2590,2600,2610,2620,2630], "tickSize": -6, "labels": false, "title": null}},
            "y": {"field": "v", "type": "quantitative", "axis": null}
          }
        },
        {
          "data": {"name": "int"},
          "transform": [{"filter": "datum.coil == 'IU90'"}],
          "mark": {"type": "line", "color": "#14a24a", "strokeWidth": 2.5},
          "encoding": {
            "x": {"field": "t", "type": "quantitative", "axis": null},
            "y": {"field": "v", "type": "quantitative", "axis": null}
          }
        },
        {
          "data": {"name": "int"},
          "transform": [{"filter": "datum.coil == 'IU150'"}],
          "mark": {"type": "line", "color": "#2e3192", "strokeWidth": 3.5},
          "encoding": {
            "x": {"field": "t", "type": "quantitative", "axis": null},
            "y": {"field": "v", "type": "quantitative", "axis": null}
          }
        },
        {
          "data": {"values": [
            {"label": "IU90", "t": 2528.2, "v": 0.95},
            {"label": "IU150", "t": 2592.4, "v": 0.48},
            {"label": "IU30", "t": 2588.0, "v": -0.72}
          ]},
          "mark": {"type": "text", "fontSize": 25, "fontWeight": "bold", "baseline": "middle", "align": "center"},
          "encoding": {
            "x": {"field": "t", "type": "quantitative", "axis": null},
            "y": {"field": "v", "type": "quantitative", "axis": null},
            "text": {"field": "label"},
            "color": {"field": "label", "type": "nominal", "scale": {"domain": ["IU90", "IU150", "IU30"], "range": ["#2fb34a", "#1073ba", "#231f20"]}, "legend": null}
          }
        },
        {
          "data": {"values": [{"t": 2500.5}, {"t": 2550}]},
          "mark": {"type": "rule", "color": "#2e3192", "strokeWidth": 4, "strokeDash": [20, 9]},
          "encoding": {
            "x": {"field": "t", "type": "quantitative", "axis": null},
            "y": {"datum": 2, "type": "quantitative", "axis": null},
            "y2": {"datum": -2.41}
          }
        }
      ],
      "resolve": {"axis": {"x": "independent", "y": "independent"}}
    },
    {
      "width": 340, "height": 170,
      "layer": [
        {
          "data": {"values": [
            {"line": 1, "text": "Effectiveness", "role": "heading"},
            {"line": 3, "text": "External -coil Curr.", "role": "quantity"},
            {"line": 4, "text": "Internal -coil Curr.", "role": "quantity"}
          ]},
          "mark": {"type": "text", "fontSize": 30, "fontWeight": "bold", "baseline": "middle", "align": "center"},
          "encoding": {
            "x": {"datum": 0.588, "type": "quantitative", "scale": {"domain": [0, 1]}, "axis": null},
            "y": {"field": "line", "type": "quantitative", "scale": {"domain": [0.027, 4.622], "reverse": true, "nice": false, "zero": false}, "axis": null},
            "text": {"field": "text"},
            "color": {"field": "role", "type": "nominal", "scale": {"domain": ["heading", "quantity"], "range": ["#0e72bb", "#231f20"]}, "legend": null}
          }
        },
        {
          "data": {"values": [{"from": 0.174, "to": 1.009, "line": 3.45}]},
          "mark": {"type": "rule", "color": "#231f20", "strokeWidth": 2.5},
          "encoding": {
            "x": {"field": "from", "type": "quantitative"},
            "x2": {"field": "to"},
            "y": {"field": "line", "type": "quantitative"}
          }
        }
      ]
    },
    {
      "width": 899, "height": 170,
      "layer": [
        {
          "data": {"values": [{"from": 2447, "to": 2623.8, "level": 2.5}]},
          "mark": {"type": "rule", "color": "#ee1d25", "strokeWidth": 11.5, "strokeDash": [18, 18.6]},
          "encoding": {
            "x": {"field": "from", "type": "quantitative", "scale": {"domain": [2440, 2637.2], "nice": false, "zero": false}, "axis": null},
            "x2": {"field": "to"},
            "y": {"field": "level", "type": "quantitative", "scale": {"domain": [1, 4], "nice": false, "zero": false}, "axis": null}
          }
        },
        {
          "data": {"name": "eff"},
          "mark": {"type": "line", "color": "#231f20", "strokeWidth": 3, "clip": true},
          "encoding": {
            "x": {"field": "t", "type": "quantitative",
                  "axis": {"orient": "bottom", "values": [2440,2450,2460,2470,2480,2490,2500,2510,2520,2530,2540,2550,2560,2570,2580,2590,2600,2610,2620,2630], "tickSize": -6, "labels": false, "title": null}},
            "y": {"field": "v", "type": "quantitative",
                  "axis": {"orient": "left", "values": [1,1.083,1.167,1.25,1.333,1.417,1.5,1.583,1.667,1.75,1.833,1.917,2,2.083,2.167,2.25,2.333,2.417,2.5,2.583,2.667,2.75,2.833,2.917,3,3.083,3.167,3.25,3.333,3.417,3.5,3.583,3.667,3.75,3.833,3.917,4],
                           "tickSize": {"condition": {"test": "datum.value == 2 || datum.value == 3", "value": -20}, "value": -11},
                           "labelExpr": "datum.value == 3 ? '3' : datum.value == 1 ? '1' : ''",
                           "labelPadding": 34,
                           "labelOffset": {"condition": {"test": "datum.value == 1", "value": -16}, "value": 0},
                           "title": null}}
          }
        },
        {
          "data": {"name": "eff"},
          "mark": {"type": "line", "color": "#231f20", "strokeWidth": 2.5, "strokeOpacity": 0, "clip": true},
          "encoding": {
            "x": {"field": "t", "type": "quantitative",
                  "axis": {"orient": "top", "values": [2440,2450,2460,2470,2480,2490,2500,2510,2520,2530,2540,2550,2560,2570,2580,2590,2600,2610,2620,2630], "tickSize": -6, "labels": false, "title": null}},
            "y": {"field": "v", "type": "quantitative", "axis": {"orient": "right", "values": [2, 3], "tickSize": -15, "labels": false, "domain": false, "title": null}}
          }
        },
        {
          "data": {"values": [{"label": "2.5", "t": 2481.2, "v": 2.88}]},
          "mark": {"type": "text", "fontSize": 27, "fontWeight": "bold", "baseline": "middle", "align": "center", "color": "#ec2227"},
          "encoding": {
            "x": {"field": "t", "type": "quantitative", "axis": null},
            "y": {"field": "v", "type": "quantitative", "axis": null},
            "text": {"field": "label"}
          }
        },
        {
          "data": {"values": [{"t": 2500.5}, {"t": 2550}]},
          "mark": {"type": "rule", "color": "#2e3192", "strokeWidth": 4, "strokeDash": [20, 9]},
          "encoding": {
            "x": {"field": "t", "type": "quantitative", "axis": null},
            "y": {"datum": 4, "type": "quantitative", "axis": null},
            "y2": {"datum": 0.68}
          }
        }
      ],
      "resolve": {"axis": {"x": "independent", "y": "independent"}}
    },
    {
      "width": 340, "height": 126,
      "data": {"values": [
        {"line": 1, "text": "Plasma rotation", "role": "quantity"},
        {"line": 2, "text": "(km/s)", "role": "quantity"}
      ]},
      "mark": {"type": "text", "fontSize": 33, "fontWeight": "bold", "baseline": "middle", "align": "center"},
      "encoding": {
        "x": {"datum": 0.609, "type": "quantitative", "scale": {"domain": [0, 1]}, "axis": null},
        "y": {"field": "line", "type": "quantitative", "scale": {"domain": [-0.27, 3.135], "reverse": true, "nice": false, "zero": false}, "axis": null},
        "text": {"field": "text"},
        "color": {"field": "role", "type": "nominal", "scale": {"domain": ["heading", "quantity"], "range": ["#0e72bb", "#231f20"]}, "legend": null}
      }
    },
    {
      "width": 899, "height": 126,
      "layer": [
        {
          "data": {"name": "rot"},
          "mark": {"type": "line", "color": "#231f20", "strokeWidth": 2, "clip": true},
          "encoding": {
            "x": {"field": "t", "type": "quantitative", "scale": {"domain": [2440, 2637.2], "nice": false, "zero": false},
                  "axis": {"orient": "bottom",
                           "values": [2440,2442,2444,2446,2448,2450,2452,2454,2456,2458,2460,2462,2464,2466,2468,2470,2472,2474,2476,2478,2480,2482,2484,2486,2488,2490,2492,2494,2496,2498,2500,2502,2504,2506,2508,2510,2512,2514,2516,2518,2520,2522,2524,2526,2528,2530,2532,2534,2536,2538,2540,2542,2544,2546,2548,2550,2552,2554,2556,2558,2560,2562,2564,2566,2568,2570,2572,2574,2576,2578,2580,2582,2584,2586,2588,2590,2592,2594,2596,2598,2600,2602,2604,2606,2608,2610,2612,2614,2616,2618,2620,2622,2624,2626,2628,2630,2632,2634,2636],
                           "tickSize": {"condition": {"test": "datum.value % 20 == 0", "value": 22}, "value": 8},
                           "tickWidth": {"condition": {"test": "datum.value % 20 == 0", "value": 3}, "value": 2},
                           "format": "d",
                           "labelExpr": "datum.value == 2500 || datum.value == 2600 ? datum.label : ''",
                           "labelFontSize": 25,
                           "labelPadding": 4,
                           "title": "time (ms)",
                           "titleFontSize": 25,
                           "titleBaseline": "alphabetic",
                           "titleY": 46}},
            "y": {"field": "v", "type": "quantitative", "scale": {"domain": [0, 150], "nice": false, "zero": false},
                  "axis": {"orient": "left", "values": [0,10,20,30,40,50,60,70,80,90,100,110,120,130,140,150],
                           "tickSize": {"condition": {"test": "datum.value == 50 || datum.value == 100", "value": -20}, "value": -12},
                           "labelExpr": "datum.value == 150 ? '150' : datum.value == 0 ? '0.0' : ''",
                           "labelPadding": 32,
                           "labelOffset": {"condition": {"test": "datum.value == 150", "value": -4}, "value": -7},
                           "title": null}}
          }
        },
        {
          "data": {"name": "rot"},
          "mark": {"type": "line", "color": "#231f20", "strokeWidth": 2, "strokeOpacity": 0, "clip": true},
          "encoding": {
            "x": {"field": "t", "type": "quantitative",
                  "axis": {"orient": "top", "values": [2440,2450,2460,2470,2480,2490,2500,2510,2520,2530,2540,2550,2560,2570,2580,2590,2600,2610,2620,2630], "tickSize": -6, "labels": false, "title": null}},
            "y": {"field": "v", "type": "quantitative",
                  "axis": {"orient": "right", "values": [0,10,20,30,40,50,60,70,80,90,100,110,120,130,140,150],
                           "tickSize": {"condition": {"test": "datum.value == 50 || datum.value == 100", "value": -14}, "value": -8},
                           "labels": false, "domain": false, "title": null}}
          }
        },
        {
          "data": {"values": [{"t": 2500.5}]},
          "mark": {"type": "rule", "color": "#2e3192", "strokeWidth": 4, "strokeDash": [20, 9]},
          "encoding": {
            "x": {"field": "t", "type": "quantitative", "axis": null},
            "y": {"datum": 150, "type": "quantitative", "axis": null},
            "y2": {"datum": 16.7}
          }
        },
        {
          "data": {"values": [{"t": 2550}]},
          "mark": {"type": "rule", "color": "#2e3192", "strokeWidth": 4, "strokeDash": [20, 9]},
          "encoding": {
            "x": {"field": "t", "type": "quantitative", "axis": null},
            "y": {"datum": 150, "type": "quantitative", "axis": null},
            "y2": {"datum": -9.5}
          }
        },
        {
          "data": {"values": [{"t0": 2509.7, "t1": 2548.1, "v0": -60.7, "v1": -17.9}]},
          "mark": {"type": "rule", "color": "#2e3192", "strokeWidth": 4},
          "encoding": {
            "x": {"field": "t0", "type": "quantitative", "axis": null},
            "x2": {"field": "t1"},
            "y": {"field": "v0", "type": "quantitative", "axis": null},
            "y2": {"field": "v1"}
          }
        }
      ],
      "resolve": {"axis": {"x": "independent", "y": "independent"}}
    }
  ]
}
